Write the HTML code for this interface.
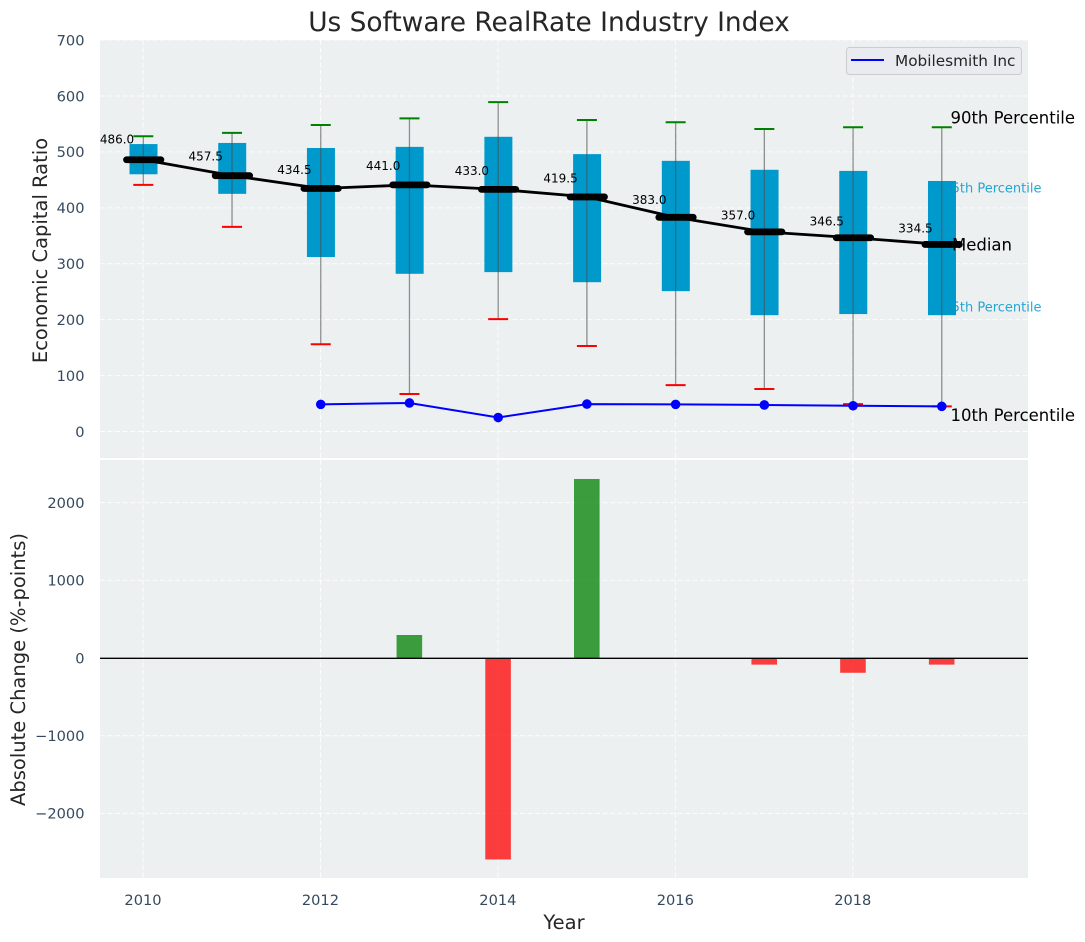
<!DOCTYPE html>
<html lang="en">
<head>
<meta charset="utf-8">
<title>Us Software RealRate Industry Index</title>
<style>
  html, body { margin: 0; padding: 0; background: #ffffff; }
  body { width: 1085px; height: 942px; overflow: hidden; }
  svg { display: block; font-family: "DejaVu Sans", "Liberation Sans", sans-serif; }
</style>
</head>
<body>
<svg id="chart" xmlns="http://www.w3.org/2000/svg" width="1085" height="942" viewBox="0 0 1085 942">
  <rect x="0" y="0" width="1085" height="942" fill="#ffffff"/>
  <rect x="100" y="40" width="928" height="418" fill="#ecf0f1"/>
  <rect x="100" y="460" width="928" height="418" fill="#ecf0f1"/>
  <g id="grid"></g>
  <g id="under">
    <text id="label-p75" font-size="13" fill="#0099cc" fill-opacity="0.85" text-anchor="end">75th Percentile</text>
    <text id="label-p25" font-size="13" fill="#0099cc" fill-opacity="0.85" text-anchor="end">25th Percentile</text>
  </g>
  <g id="marks"></g>
  <g id="ticks"></g>
  <text x="549" y="31" font-size="26.4" fill="#262626" text-anchor="middle">Us Software RealRate Industry Index</text>
  <text transform="translate(47,250.5) rotate(-90)" font-size="19.5" fill="#262626" text-anchor="middle">Economic Capital Ratio</text>
  <text transform="translate(25,669.5) rotate(-90)" font-size="19.5" fill="#262626" text-anchor="middle">Absolute Change (%-points)</text>
  <text x="564" y="929" font-size="19.5" fill="#262626" text-anchor="middle">Year</text>
  <text id="label-p90" font-size="16.5" fill="#000000">90th Percentile</text>
  <text id="label-median" font-size="16.5" fill="#000000">Median</text>
  <text id="label-p10" font-size="16.5" fill="#000000">10th Percentile</text>
  <g>
    <rect x="846.5" y="47.5" width="175" height="27" rx="3" fill="#e9ebf0" stroke="#cccccc" stroke-width="1"/>
    <line x1="851" y1="60" x2="884" y2="60" stroke="#0000ff" stroke-width="2"/>
    <text x="895" y="66" font-size="15.3" fill="#262626">Mobilesmith Inc</text>
  </g>
</svg>
<script>
const years = [2010, 2011, 2012, 2013, 2014, 2015, 2016, 2017, 2018, 2019];
const p90 = [528, 534, 548, 560, 589, 557, 553, 541, 544, 544];
const p75 = [514, 516, 507, 509, 527, 496, 484, 468, 466, 448];
const medians = [486, 457.5, 434.5, 441, 433, 419.5, 383, 357, 346.5, 334.5];
const p25 = [460, 425, 312, 282, 285, 267, 251, 208, 210, 208];
const p10 = [441, 366, 156, 67, 201, 153, 83, 76, 49, 45];
const companyYears = [2012, 2013, 2014, 2015, 2016, 2017, 2018, 2019];
const companyValues = [48.5, 51, 25, 49, 48.5, 47.5, 46, 45];
const changeYears = [2013, 2014, 2015, 2017, 2018, 2019];
const changeValues = [296, -2593, 2304, -85, -190, -85];
const xTicks = [2010, 2012, 2014, 2016, 2018];
const topYTicks = [0, 100, 200, 300, 400, 500, 600, 700];
const bottomYTicks = [-2000, -1000, 0, 1000, 2000];

const NS = 'http://www.w3.org/2000/svg';
const xScale = v => 143 + (v - 2010) * 88.72;
const yTop = v => 431.5 - v * 0.5592;
const yBottom = v => 658 - v * 0.0777;
const gridLayer = document.getElementById('grid');
const marks = document.getElementById('marks');
const tickLayer = document.getElementById('ticks');

function make(tag, attrs, parent) {
  const el = document.createElementNS(NS, tag);
  for (const k in attrs) el.setAttribute(k, attrs[k]);
  parent.appendChild(el);
  return el;
}
const gridStyle = { stroke: '#ffffff', 'stroke-width': 1, 'stroke-dasharray': '5 2.5', 'stroke-opacity': 0.85 };

xTicks.forEach(t => {
  const x = xScale(t);
  const a = make('line', { x1: x, x2: x, y1: 40, y2: 458, ...gridStyle }, gridLayer);
  
  
  const b = make('line', { x1: x, x2: x, y1: 460, y2: 878, ...gridStyle }, gridLayer);
  
  
  const label = make('text', { x: x, y: 905, 'font-size': 14.6, fill: '#34495e', 'text-anchor': 'middle' }, tickLayer);
  label.textContent = String(t);
  
  
});
topYTicks.forEach(t => {
  const y = yTop(t);
  const g = make('line', { x1: 100, x2: 1028, y1: y, y2: y, ...gridStyle }, gridLayer);
  
  
  const label = make('text', { x: 84.5, y: y + 5.3, 'font-size': 14.6, fill: '#34495e', 'text-anchor': 'end' }, tickLayer);
  label.textContent = String(t);
  
  
});
bottomYTicks.forEach(t => {
  const y = yBottom(t);
  const g = make('line', { x1: 100, x2: 1028, y1: y, y2: y, ...gridStyle }, gridLayer);
  
  
  const label = make('text', { x: 84.5, y: y + 5.3, 'font-size': 14.6, fill: '#34495e', 'text-anchor': 'end' }, tickLayer);
  label.textContent = String(t).replace('-', '\u2212');
  
  
});

years.forEach((yr, i) => {
  const x = xScale(yr) + 0.5;
  const box = make('rect', { x: x - 14, width: 28, y: yTop(p75[i]), height: yTop(p25[i]) - yTop(p75[i]), fill: '#0099cc' }, marks);
  
  
});
years.forEach((yr, i) => {
  const x = xScale(yr) + 0.3;
  const w = make('line', { x1: x, x2: x, y1: yTop(p90[i]), y2: yTop(p10[i]), stroke: '#4d4d4d', 'stroke-opacity': 0.6, 'stroke-width': 1.3 }, marks);
  
  
  const hi = make('line', { x1: x - 10, x2: x + 10, y1: yTop(p90[i]), y2: yTop(p90[i]), stroke: '#008000', 'stroke-width': 2 }, marks);
  
  
  const lo = make('line', { x1: x - 10, x2: x + 10, y1: yTop(p10[i]), y2: yTop(p10[i]), stroke: '#ff0000', 'stroke-width': 2 }, marks);
  
  
});

const medianLine = make('polyline', { points: years.map((yr, i) => (xScale(yr) + 0.5) + ',' + yTop(medians[i])).join(' '), fill: 'none', stroke: '#000000', 'stroke-width': 2.8 }, marks);


years.forEach((yr, i) => {
  const x = xScale(yr) + 0.7;
  const y = yTop(medians[i]);
  const m = make('line', { x1: x - 17.2, x2: x + 17.2, y1: y, y2: y, stroke: '#000000', 'stroke-width': 6.8, 'stroke-linecap': 'round' }, marks);
  
  
  const t = make('text', { x: x - 26.7, y: yTop(medians[i] * 1.05) - 2.5, 'font-size': 12, fill: '#000000', 'text-anchor': 'middle' }, marks);
  t.textContent = medians[i].toFixed(1);
  
  
});

const companyLine = make('polyline', { points: companyYears.map((yr, i) => (xScale(yr) + 0.3) + ',' + yTop(companyValues[i])).join(' '), fill: 'none', stroke: '#0000ff', 'stroke-width': 2 }, marks);


companyYears.forEach((yr, i) => {
  const c = make('circle', { cx: xScale(yr) + 0.3, cy: yTop(companyValues[i]), r: 4.8, fill: '#0000ff' }, marks);
  
  
});

changeYears.forEach((yr, i) => {
  const v = changeValues[i];
  const y0 = yBottom(Math.max(v, 0));
  const y1 = yBottom(Math.min(v, 0));
  const b = make('rect', { x: xScale(yr) - 12.6, width: 25.6, y: y0, height: y1 - y0, fill: v >= 0 ? '#008000' : '#ff0000', 'fill-opacity': 0.75 }, marks);
  
  
});
const zero = make('line', { x1: 100, x2: 1028, y1: yBottom(0) + 0.3, y2: yBottom(0) + 0.3, stroke: '#000000', 'stroke-width': 1.4 }, marks);



const last = years.length - 1;
const lastX = xScale(years[last]);
function place(id, x, y) {
  const el = document.getElementById(id);
  el.setAttribute('x', x);
  el.setAttribute('y', y);
}
place('label-p90', lastX + 9, yTop(p90[last]) - 4);
place('label-p75', lastX + 100, yTop(p75[last]) + 11.5);
place('label-median', lastX + 10.5, yTop(medians[last]) + 6);
place('label-p25', lastX + 100, yTop(p25[last]) - 3.5);
place('label-p10', lastX + 9, yTop(p10[last]) + 14.5);
</script>
</body>
</html>
